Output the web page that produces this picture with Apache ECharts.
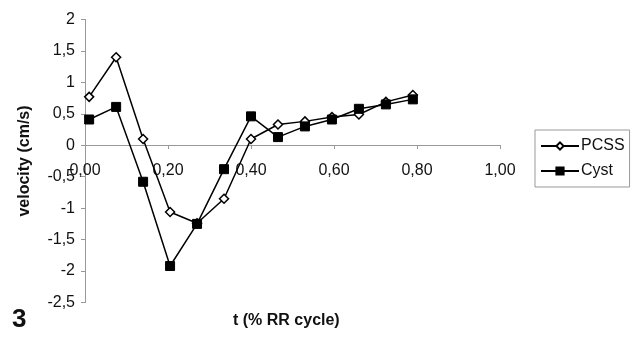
<!DOCTYPE html>
<html>
<head>
<meta charset="utf-8">
<script src="https://cdn.jsdelivr.net/npm/echarts@6/dist/echarts.min.js"></script>
<style>
html,body{margin:0;padding:0;background:#fff;}
#c{width:640px;height:343px;}
</style>
</head>
<body>
<div id="c"></div>
<script>
var tValues = [0.01, 0.075, 0.14, 0.205, 0.27, 0.335, 0.40, 0.465, 0.53, 0.595, 0.66, 0.725, 0.79];
var pcss = [0.77, 1.40, 0.10, -1.06, -1.24, -0.85, 0.10, 0.33, 0.38, 0.45, 0.49, 0.69, 0.80];
var cyst = [0.41, 0.61, -0.58, -1.92, -1.25, -0.38, 0.46, 0.13, 0.30, 0.41, 0.58, 0.65, 0.73];
var seriesNames = ['PCSS', 'Cyst'];
var xTitle = 't (% RR cycle)';
var yTitle = 'velocity (cm/s)';
var figLabel = '3';

function pairs(vals){ return tValues.map(function(t,i){ return [t, vals[i]]; }); }

var chart = echarts.init(document.getElementById('c'));
var font = 'Liberation Sans, Arial, sans-serif';
chart.setOption({
  animation: false,
  backgroundColor: '#fff',
  textStyle: {fontFamily: font},
  grid: {left: 85, right: 140, top: 19.5, bottom: 40.5, containLabel: false},
  xAxis: {
    type: 'value', min: 0, max: 1, interval: 0.2,
    position: 'bottom', offset: -157.5,
    axisLine: {show: true, onZero: false, lineStyle: {color: '#999', width: 1}},
    axisTick: {show: true, inside: false, length: 4, lineStyle: {color: '#999'}},
    splitLine: {show: false},
    axisLabel: {show: true, margin: 18, fontSize: 16, color: '#111', fontFamily: font,
      formatter: function(v){ return v.toFixed(2).replace('.', ','); }}
  },
  yAxis: {
    type: 'value', min: -2.5, max: 2, interval: 0.5,
    name: yTitle, nameLocation: 'middle', nameGap: 52, nameRotate: 90,
    nameTextStyle: {fontSize: 16, fontWeight: 'bold', color: '#111', fontFamily: font},
    axisLine: {show: true, onZero: false, lineStyle: {color: '#999', width: 1}},
    axisTick: {show: true, length: 4, lineStyle: {color: '#999'}},
    splitLine: {show: false},
    axisLabel: {margin: 10, fontSize: 16, color: '#111', fontFamily: font,
      formatter: function(v){ return String(v).replace('.', ','); }}
  },
  legend: {
    orient: 'vertical', left: 535, top: 130,
    itemWidth: 38, itemHeight: 9, itemGap: 9,
    padding: [8, 5, 8, 5],
    borderColor: '#999', borderWidth: 1,
    textStyle: {fontSize: 16, color: '#111', fontFamily: font, padding: [0,0,0,-3]},
    data: seriesNames
  },
  graphic: [
    {type: 'text', left: 233, top: 313, style: {text: xTitle, font: 'bold 16px ' + font, fill: '#111'}},
    {type: 'text', left: 12, top: 307, style: {text: figLabel, font: 'bold 26px ' + font, fill: '#111'}}
  ],
  series: [
    {name: seriesNames[0], type: 'line', data: pairs(pcss),
     symbol: 'diamond', symbolSize: 9, showAllSymbol: true,
     lineStyle: {color: '#000', width: 1.5},
     itemStyle: {color: '#fff', borderColor: '#000', borderWidth: 1.5}},
    {name: seriesNames[1], type: 'line', data: pairs(cyst),
     symbol: 'rect', symbolSize: 9, showAllSymbol: true,
     lineStyle: {color: '#000', width: 1.5},
     itemStyle: {color: '#000', borderColor: '#000', borderWidth: 1}}
  ]
});
</script>
</body>
</html>
